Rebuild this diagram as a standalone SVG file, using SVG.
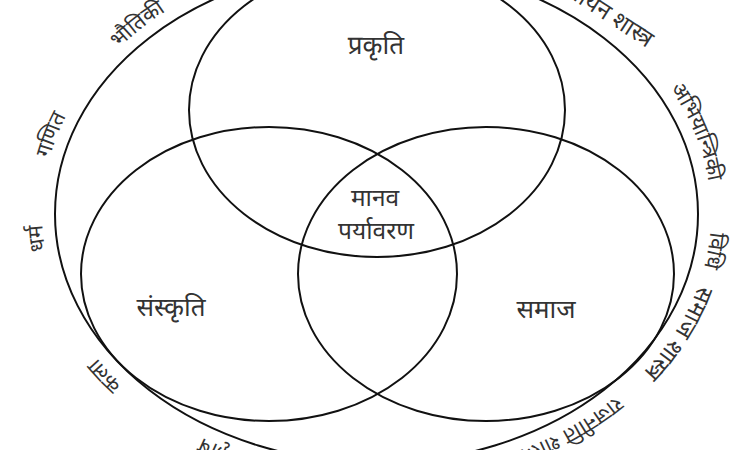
<svg xmlns="http://www.w3.org/2000/svg" width="750" height="450" viewBox="0 0 750 450">
<style>
  .ring { fill: none; stroke: #111; stroke-width: 2; }
  .lbl { font-family: "Noto Sans Devanagari", "Noto Sans", "Lohit Devanagari", sans-serif; fill: #333; text-anchor: middle; }
  .in { font-size: 26px; }
  .mid { font-size: 24.5px; }
  .out { font-size: 21.5px; }
  .big { font-size: 23.5px; }
</style>
<defs>
  <path id="p-bhautiki" d="M67.2,117.8 A334.5,262 0 0 1 243.5,-26.4"/>
  <path id="p-ganit" d="M43.5,239.1 A334.5,262 0 0 1 114.7,50.9"/>
  <path id="p-dharm" d="M75.9,328.9 A334.5,262 0 0 1 55,141.8"/>
  <path id="p-kala" d="M199.2,436.2 A334.5,262 0 0 1 51.9,277.4"/>
  <path id="p-krishi" d="M335.7,474 A334.5,262 0 0 1 116.6,378.9"/>
  <path id="p-rajniti" d="M616,396 A334.5,262 0 0 1 262.1,460.2"/>
  <path id="p-samaj" d="M698.5,285 A334.5,262 0 0 1 543.8,440.9"/>
  <path id="p-vidhi" d="M699.6,146.2 A334.5,262 0 0 1 666.2,345"/>
  <path id="p-abhi" d="M613,28.7 A334.5,262 0 0 1 704.8,264"/>
</defs>

<g id="outer-ellipse">
  <ellipse class="ring" cx="376.5" cy="214" rx="321.5" ry="249"/>
</g>

<g id="node-prakriti">
  <ellipse class="ring" cx="377" cy="110" rx="188" ry="147"/>
  <text class="lbl in" x="376" y="54">प्रकृति</text>
</g>
<g id="node-sanskriti">
  <ellipse class="ring" cx="269" cy="274" rx="188" ry="147"/>
  <text class="lbl in" x="171" y="316">संस्कृति</text>
</g>
<g id="node-samaj">
  <ellipse class="ring" cx="486" cy="274" rx="188" ry="147"/>
  <text class="lbl in" x="546" y="318">समाज</text>
</g>
<g id="node-manav-paryavaran">
  <text class="lbl mid" x="375" y="206">मानव</text>
  <text class="lbl mid" x="376" y="239">पर्यावरण</text>
</g>

<g id="connectors"></g>

<g id="disciplines">
  <g id="d-bhautiki"><text class="lbl out"><textPath href="#p-bhautiki" startOffset="50%">भौतिकी</textPath></text></g>
  <g id="d-ganit"><text class="lbl out"><textPath href="#p-ganit" startOffset="50%">गणित</textPath></text></g>
  <g id="d-dharm"><text class="lbl out"><textPath href="#p-dharm" startOffset="50%">धर्म</textPath></text></g>
  <g id="d-kala"><text class="lbl out"><textPath href="#p-kala" startOffset="50%">कला</textPath></text></g>
  <g id="d-krishi"><text class="lbl out"><textPath href="#p-krishi" startOffset="50%">कृषि</textPath></text></g>
  <g id="d-rajniti"><text class="lbl out" style="text-anchor:start"><textPath href="#p-rajniti" startOffset="0">राजनीति शास्त्र</textPath></text></g>
  <g id="d-samajshastra"><text class="lbl big" style="text-anchor:start"><textPath href="#p-samaj" startOffset="0">समाज शास्त्र</textPath></text></g>
  <g id="d-vidhi"><text class="lbl out"><textPath href="#p-vidhi" startOffset="50%">विधि</textPath></text></g>
  <g id="d-abhiyantriki"><text class="lbl out"><textPath href="#p-abhi" startOffset="50%">अभियान्त्रिकी</textPath></text></g>
  <g id="d-rasayan"><text class="lbl big" style="text-anchor:end" transform="translate(647,48) rotate(33)">रसायन शास्त्र</text></g>
</g>
</svg>
